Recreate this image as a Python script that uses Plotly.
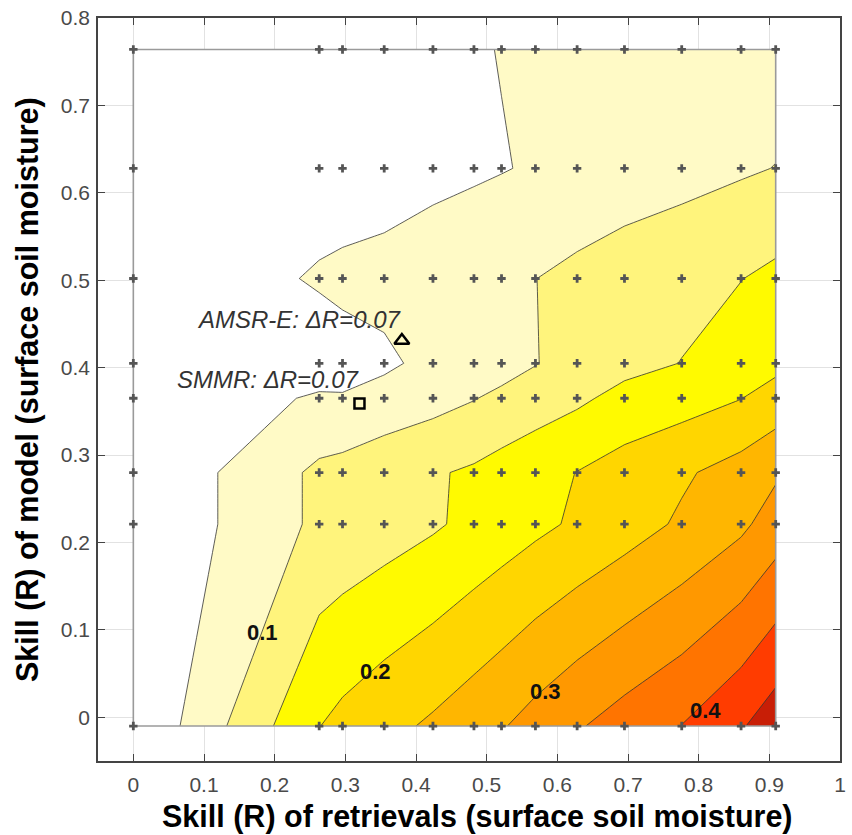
import plotly.graph_objects as go

# ---------------- data ----------------
# grid of retrieval skill (x) and model skill (y)
x_skill = [0.0, 0.263, 0.296, 0.355, 0.424, 0.482, 0.521, 0.569, 0.628, 0.695, 0.776, 0.860, 0.909]
y_skill = [-0.01, 0.221, 0.28, 0.365, 0.405, 0.502, 0.628, 0.764]

# skill improvement (Delta R) on each grid row, bottom to top
dR_row0 = [0.0, 0.199, 0.214, 0.235, 0.258, 0.280, 0.296, 0.319, 0.345, 0.372, 0.401, 0.445, 0.480]
dR_row1 = [0.0, 0.110, 0.116, 0.128, 0.144, 0.162, 0.174, 0.189, 0.207, 0.228, 0.257, 0.290, 0.323]
dR_row2 = [0.0, 0.110, 0.117, 0.130, 0.145, 0.157, 0.169, 0.183, 0.201, 0.221, 0.243, 0.270, 0.293]
dR_row3 = [0.0, 0.057, 0.054, 0.070, 0.083, 0.098, 0.111, 0.125, 0.141, 0.165, 0.179, 0.199, 0.220]
dR_row4 = [0.0, 0.020, 0.030, 0.040, 0.065, 0.070, 0.080, 0.098, 0.120, 0.135, 0.151, 0.175, 0.187]
dR_row5 = [0.0, 0.056, 0.0618, 0.0677, 0.078, 0.0866, 0.0925, 0.0995, 0.112, 0.1256, 0.1354, 0.149, 0.161]
dR_row6 = [0.0, 0.020, 0.020, 0.025, 0.036, 0.0427, 0.0477, 0.0546, 0.0627, 0.0718, 0.0829, 0.0943, 0.101]
dR_row7 = [0.0, 0.010, 0.015, 0.020, 0.030, 0.0457, 0.0515, 0.060, 0.065, 0.070, 0.073, 0.076, 0.078]

level_start = 0.05
level_end = 0.45
level_step = 0.05

# sensors
sensor_names = ["AMSR-E", "SMMR"]
sensor_x = [0.380, 0.320]
sensor_y = [0.431, 0.359]
sensor_dR = ["0.07", "0.07"]

# contour labels shown
label_levels = ["0.1", "0.2", "0.3", "0.4"]

x_ticks = [0, 0.1, 0.2, 0.3, 0.4, 0.5, 0.6, 0.7, 0.8, 0.9, 1.0]
x_tick_text = ["0", "0.1", "0.2", "0.3", "0.4", "0.5", "0.6", "0.7", "0.8", "0.9", "1"]
y_ticks = [0, 0.1, 0.2, 0.3, 0.4, 0.5, 0.6, 0.7, 0.8]
y_tick_text = ["0", "0.1", "0.2", "0.3", "0.4", "0.5", "0.6", "0.7", "0.8"]

# ---------------- styling ----------------
band_colors = ["#ffffff", "#fffac6", "#fff47c", "#fffa00", "#ffd600",
               "#ffb600", "#ff9800", "#ff7400", "#ff3c00", "#c81e06"]
n = len(band_colors)
colorscale = []
for k, c in enumerate(band_colors):
    lo = max(0.0, (k - 0.5) / (n - 1))
    hi = min(1.0, (k + 0.5) / (n - 1))
    colorscale.append([lo, c])
    colorscale.append([hi, c])

FONT = "Liberation Sans, Arial, Helvetica, sans-serif"

z = [dR_row0, dR_row1, dR_row2, dR_row3, dR_row4, dR_row5, dR_row6, dR_row7]

fig = go.Figure()

fig.add_trace(go.Contour(
    x=x_skill, y=y_skill, z=z,
    autocontour=False,
    contours=dict(start=level_start, end=level_end, size=level_step,
                  coloring="fill", showlabels=False),
    colorscale=colorscale, showscale=False,
    line=dict(color="#333333", width=0.8, smoothing=0),
    hoverinfo="skip",
))

# outline of the gridded domain
fig.add_trace(go.Scatter(
    x=[x_skill[0], x_skill[-1], x_skill[-1], x_skill[0], x_skill[0]],
    y=[y_skill[0], y_skill[0], y_skill[-1], y_skill[-1], y_skill[0]],
    mode="lines", line=dict(color="#9a9a9a", width=1.6),
    hoverinfo="skip", showlegend=False,
))

# grid points
gx = [xv for yv in y_skill for xv in x_skill]
gy = [yv for yv in y_skill for xv in x_skill]
fig.add_trace(go.Scatter(
    x=gx, y=gy, mode="markers",
    marker=dict(symbol="cross", size=7, color="#555555", line=dict(width=0)),
    hoverinfo="skip", showlegend=False,
))

# sensors
fig.add_trace(go.Scatter(
    x=[sensor_x[0]], y=[sensor_y[0]], mode="markers",
    marker=dict(symbol="triangle-up-open", size=13, color="#000000", line=dict(width=2.5)),
    showlegend=False,
))
fig.add_trace(go.Scatter(
    x=[sensor_x[1]], y=[sensor_y[1]], mode="markers",
    marker=dict(symbol="square-open", size=10, color="#000000", line=dict(width=2.5)),
    showlegend=False,
))

annotations = []
# sensor labels
annotations.append(dict(x=0.0875, y=0.455, xref="x", yref="y", xanchor="left", yanchor="middle",
                        text=f"<i>{sensor_names[0]}: \u0394R={sensor_dR[0]}</i>", showarrow=False,
                        font=dict(family=FONT, size=24, color="#333333")))
annotations.append(dict(x=0.0595, y=0.386, xref="x", yref="y", xanchor="left", yanchor="middle",
                        text=f"<i>{sensor_names[1]}: \u0394R={sensor_dR[1]}</i>", showarrow=False,
                        font=dict(family=FONT, size=24, color="#333333")))
# contour labels
label_pos = [(0.183, 0.097), (0.342, 0.052), (0.583, 0.029), (0.810, 0.008)]
for txt, (lx, ly) in zip(label_levels, label_pos):
    annotations.append(dict(x=lx, y=ly, xref="x", yref="y", text=f"<b>{txt}</b>", showarrow=False,
                            font=dict(family=FONT, size=22, color="#111111")))
# axis titles
annotations.append(dict(x=0.512, y=-0.0745, xref="paper", yref="paper", xanchor="center", yanchor="middle",
                        text="<b>Skill (R) of retrievals (surface soil moisture)</b>", showarrow=False,
                        font=dict(family=FONT, size=30.5, color="#000000")))
annotations.append(dict(x=-0.095, y=0.5, xref="paper", yref="paper", xanchor="center", yanchor="middle",
                        text="<b>Skill (R) of model (surface soil moisture)</b>", showarrow=False, textangle=-90,
                        font=dict(family=FONT, size=30.5, color="#000000")))

axis_common = dict(showgrid=True, gridcolor="#e2e2e2", gridwidth=1, zeroline=False,
                   showline=True, linecolor="#444444", linewidth=1.5, mirror="ticks",
                   ticks="inside", ticklen=7, tickcolor="#444444", tickwidth=1.2,
                   tickfont=dict(family=FONT, size=21, color="#4a4a4a"))

fig.update_layout(
    width=852, height=835,
    margin=dict(l=98, r=6, t=14, b=74),
    paper_bgcolor="white", plot_bgcolor="white",
    showlegend=False,
    annotations=annotations,
    xaxis=dict(range=[-0.05, 1.0], tickmode="array", tickvals=x_ticks, ticktext=x_tick_text,
               ticklabelstandoff=4, **axis_common),
    yaxis=dict(range=[-0.05, 0.8], tickmode="array", tickvals=y_ticks, ticktext=y_tick_text,
               ticklabelstandoff=2, **axis_common),
)

fig.write_html("out.html")
